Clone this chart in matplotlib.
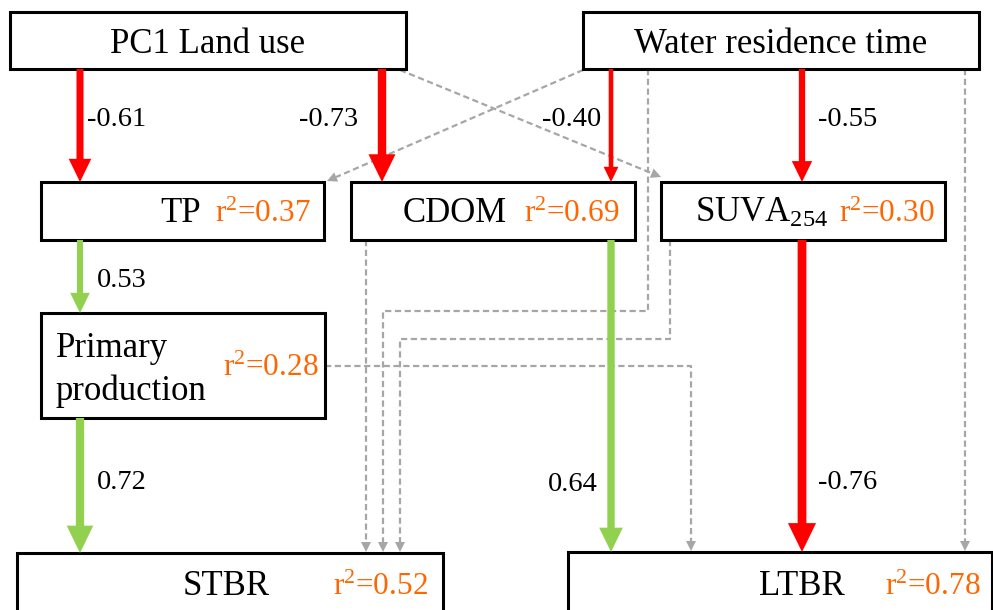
import numpy as np
import matplotlib.pyplot as plt
from matplotlib.patches import Rectangle

plt.rcParams['font.family'] = 'Liberation Serif'
plt.rcParams['mathtext.fontset'] = 'custom'
plt.rcParams['mathtext.rm'] = 'Liberation Serif'
plt.rcParams['mathtext.it'] = 'Liberation Serif:italic'

# nodes of the path model and their explained variance
node_keys = ['land', 'wrt', 'tp', 'cdom', 'suva', 'pp', 'stbr', 'ltbr']
node_labels = ['PC1 Land use', 'Water residence time', 'TP', 'CDOM',
               r'SUVA$_{254}$', 'Primary\nproduction', 'STBR', 'LTBR']
node_r2 = [None, None, 0.37, 0.69, 0.30, 0.28, 0.52, 0.78]

# significant paths (standardised coefficients)
sig_from = ['land', 'land', 'wrt', 'wrt', 'tp', 'pp', 'cdom', 'suva']
sig_to = ['tp', 'cdom', 'cdom', 'suva', 'pp', 'stbr', 'ltbr', 'ltbr']
sig_coef = [-0.61, -0.73, -0.40, -0.55, 0.53, 0.72, 0.64, -0.76]

# non significant paths
ns_from = ['land', 'wrt', 'wrt', 'suva', 'cdom', 'pp', 'wrt']
ns_to = ['suva', 'tp', 'stbr', 'stbr', 'stbr', 'ltbr', 'ltbr']

# ---- layout (pixel coords, y down) ----
boxes = {
    'land': (10, 12, 406, 69),
    'wrt': (583, 12, 979, 69),
    'tp': (41, 182, 324, 240),
    'cdom': (351, 182, 635, 240),
    'suva': (661, 182, 945, 240),
    'pp': (41, 313, 325, 418),
    'stbr': (17, 553, 443, 618),
    'ltbr': (568, 552, 992, 618),
}
# x, baseline y, alignment
label_pos = {
    'land': (208, 53, 'center'),
    'wrt': (781, 53, 'center'),
    'tp': (201, 222, 'right'),
    'cdom': (507, 222, 'right'),
    'suva': (695, 222, 'left'),
    'pp': (56, 357, 'left'),
    'stbr': (226, 595, 'center'),
    'ltbr': (802, 595, 'center'),
}
line_gap = 43
r2_pos = {
    'tp': (311, 222), 'cdom': (619, 222), 'suva': (935, 222),
    'pp': (319, 376), 'stbr': (428, 595), 'ltbr': (981, 595),
}
sig_x = [80, 382, 611, 802, 80, 80, 611, 802]
coef_pos = [(87, 126, 'left'), (358, 126, 'right'), (601, 126, 'right'),
            (818, 126, 'left'), (97, 287, 'left'), (97, 489, 'left'),
            (598, 491, 'right'), (818, 489, 'left')]
ns_route = [
    [(400, 70), (661, 177)],
    [(583, 70), (327, 181)],
    [(648, 69), (648, 311), (383, 311), (383, 552)],
    [(670, 240), (670, 339), (400, 339), (400, 552)],
    [(366, 240), (366, 552)],
    [(325, 366), (691, 366), (691, 551)],
    [(965, 69), (965, 551)],
]

RED = '#FF0000'
GREEN = '#92D050'
GREY = '#A6A6A6'
ORANGE = '#FF6600'

fig = plt.figure(figsize=(9.93, 6.10), dpi=100)
ax = fig.add_axes([0, 0, 1, 1])
ax.set_xlim(0, 993)
ax.set_ylim(610, 0)
ax.axis('off')

# grey dashed paths
for frm, to, pts in zip(ns_from, ns_to, ns_route):
    pts = np.array(pts, dtype=float)
    d = pts[-1] - pts[-2]
    d = d / np.hypot(*d)
    hl = 10
    line = np.vstack([pts[:-1], pts[-1] - d * hl])
    ax.plot(line[:, 0], line[:, 1], color=GREY, lw=1.6, dashes=(2.8, 1.6), zorder=1)
    ax.arrow(*(pts[-1] - d * hl), *(d * hl), width=0, head_width=10, head_length=hl,
             length_includes_head=True, color=GREY, lw=0, zorder=1)

# significant arrows
for frm, to, c, x, (tx, ty, ha) in zip(sig_from, sig_to, sig_coef, sig_x, coef_pos):
    y0 = boxes[frm][3]
    y1 = boxes[to][1]
    col = RED if c < 0 else GREEN
    a = abs(c)
    ax.arrow(x, y0, 0, y1 - y0, width=11.5 * a, head_width=37 * a, head_length=38 * a,
             length_includes_head=True, color=col, lw=0, zorder=3)
    ax.text(tx, ty, f'{c:.2f}', fontsize=20.5, ha=ha, va='baseline', zorder=4)

# boxes and labels
for key, lab, r in zip(node_keys, node_labels, node_r2):
    x0, y0, x1, y1 = boxes[key]
    ax.add_patch(Rectangle((x0, y0), x1 - x0, y1 - y0, facecolor='white',
                           edgecolor='black', lw=2.2, zorder=2))
    lx, ly, ha = label_pos[key]
    for i, part in enumerate(lab.split('\n')):
        ax.text(lx, ly + i * line_gap, part, fontsize=25, ha=ha, va='baseline', zorder=4)
    if r is not None:
        rx, ry = r2_pos[key]
        ax.text(rx, ry, f'r$^{{2}}$={r:.2f}', fontsize=22.5, color=ORANGE,
                ha='right', va='baseline', zorder=4)

fig.savefig('out.png', dpi=100)
